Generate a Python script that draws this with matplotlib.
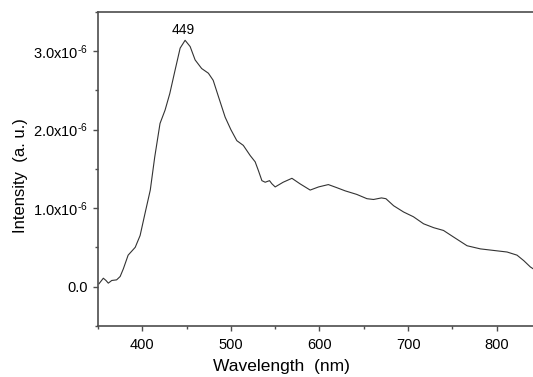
import numpy as np
import matplotlib
matplotlib.use("Agg")
import matplotlib.pyplot as plt
from matplotlib.ticker import MultipleLocator, FuncFormatter

plt.rcParams["font.family"] = ["Liberation Sans", "DejaVu Sans"]
plt.rcParams["mathtext.default"] = "regular"

wavelength = [351, 356, 359, 361.6, 365.5, 371, 375, 378.6, 384, 392, 397.5, 403, 409,
              414, 420, 425.7, 431, 437, 442.7, 448.3, 454, 459.6, 467, 474.6, 480,
              486, 493.5, 500, 506.7, 514, 521.8, 527.4, 531, 535, 538.7, 543.6, 546.3,
              550, 559, 568.9, 578, 589.5, 599, 610, 619.7, 629, 642, 653.6, 661, 670,
              675, 683.7, 695, 706, 717.5, 729, 740, 751.5, 766.6, 781.6, 796.7, 811.8,
              823, 830.6, 838, 842]
intensity = [0.034, 0.106, 0.077, 0.043, 0.077, 0.085, 0.128, 0.226, 0.40, 0.50, 0.65,
             0.93, 1.23, 1.65, 2.08, 2.25, 2.46, 2.76, 3.04, 3.14, 3.06, 2.89, 2.78,
             2.72, 2.63, 2.42, 2.16, 2.0, 1.86, 1.80, 1.67, 1.59, 1.48, 1.35, 1.33,
             1.35, 1.31, 1.27, 1.33, 1.38, 1.31, 1.23, 1.27, 1.30, 1.26, 1.22, 1.175,
             1.12, 1.11, 1.13, 1.12, 1.03, 0.95, 0.89, 0.80, 0.75, 0.715, 0.63, 0.52,
             0.48, 0.46, 0.44, 0.40, 0.33, 0.25, 0.22]
intensity = np.array(intensity) * 1e-6

peak_label = "449"
peak_pos = (446.4, 3.27e-6)


def fmt_y(v, pos):
    if abs(v) < 1e-12:
        return "0.0"
    return "%.1fx10$^{\u2010 6}$".replace(" ", "") % (v * 1e6)


fig = plt.figure(figsize=(5.33, 3.77), dpi=100)
ax = fig.add_axes([0.1839, 0.136, 0.831, 0.832])

ax.plot(wavelength, intensity, color="#333333", linewidth=0.8)
ax.text(peak_pos[0], peak_pos[1], peak_label, ha="center", va="center", fontsize=10)

ax.set_xlim(350, 850)
ax.set_ylim(-0.5e-6, 3.5e-6)
ax.xaxis.set_major_locator(MultipleLocator(100))
ax.xaxis.set_minor_locator(MultipleLocator(50))
ax.yaxis.set_major_locator(MultipleLocator(1e-6))
ax.yaxis.set_minor_locator(MultipleLocator(0.5e-6))
ax.yaxis.set_major_formatter(FuncFormatter(fmt_y))

for s in ["left", "bottom", "top", "right"]:
    ax.spines[s].set_color("#4d4d4d")
    ax.spines[s].set_linewidth(1.2)

ax.tick_params(which="major", direction="out", length=3.6, width=1.0, color="#4d4d4d",
               labelsize=10.5, pad=4)
ax.tick_params(axis="x", which="major", pad=5)
ax.tick_params(which="minor", direction="out", length=2.4, width=1.0, color="#4d4d4d")
ax.tick_params(axis="y", which="both", right=False)
ax.tick_params(axis="x", which="both", top=False)

ax.set_xlabel("Wavelength  (nm)", fontsize=12.5)
ax.set_ylabel("Intensity  (a. u.)", fontsize=12)
ax.xaxis.set_label_coords(0.415, -0.105)
ax.yaxis.set_label_coords(-0.158, 0.478)

fig.savefig("out.png", dpi=100)
